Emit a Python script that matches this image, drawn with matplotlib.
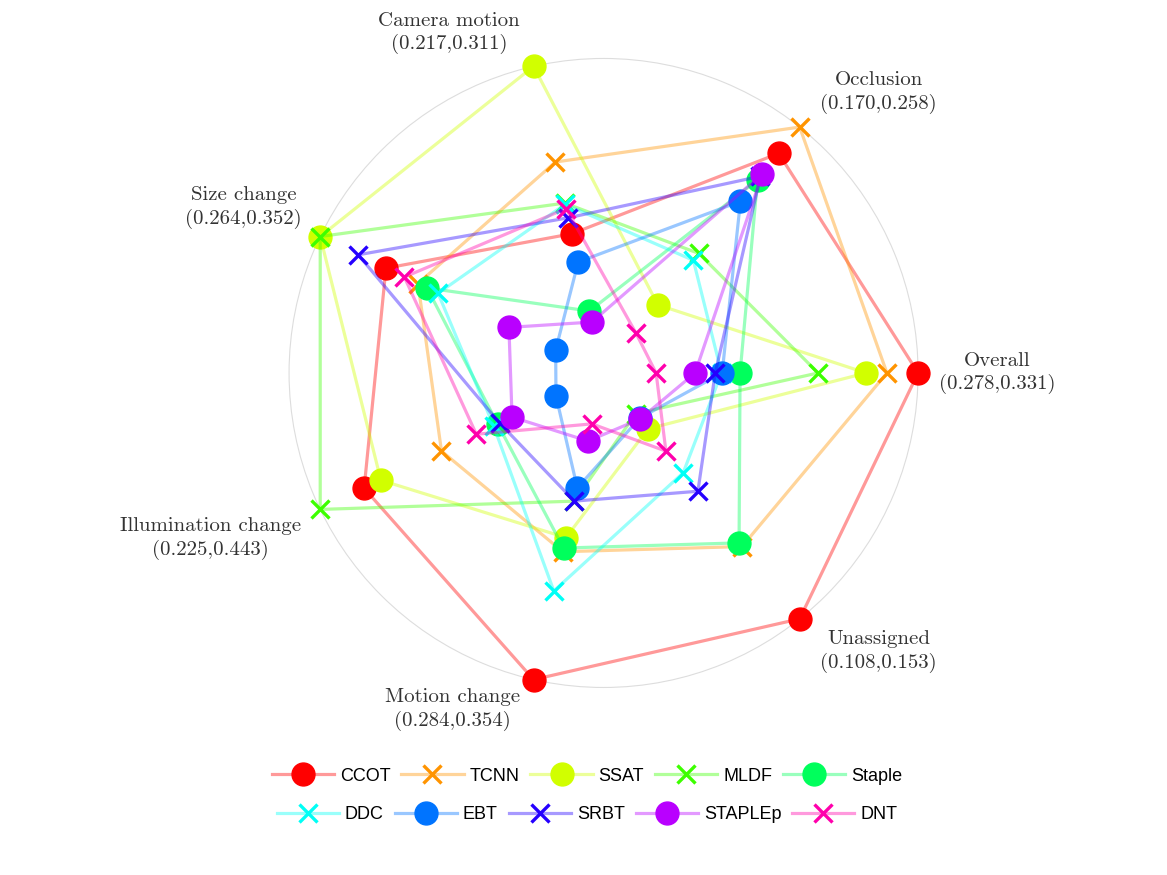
import matplotlib
matplotlib.use('Agg')
import matplotlib.pyplot as plt
import numpy as np

# attribute axes, counter-clockwise from the right
attributes = ['Overall', 'Occlusion', 'Camera motion', 'Size change',
              'Illumination change', 'Motion change', 'Unassigned']
ranges = ['(0.278,0.331)', '(0.170,0.258)', '(0.217,0.311)', '(0.264,0.352)',
          '(0.225,0.443)', '(0.284,0.354)', '(0.108,0.153)']

trackers = ['CCOT', 'TCNN', 'SSAT', 'MLDF', 'Staple',
            'DDC', 'EBT', 'SRBT', 'STAPLEp', 'DNT']
markers = ['o', 'x', 'o', 'x', 'o', 'x', 'o', 'x', 'o', 'x']

# normalised score per attribute (same order as attributes)
ccot    = [1.000, 0.893, 0.454, 0.768, 0.845, 1.000, 1.000]
tcnn    = [0.901, 1.000, 0.688, 0.655, 0.572, 0.583, 0.706]
ssat    = [0.835, 0.277, 1.000, 1.000, 0.786, 0.537, 0.227]
mldf    = [0.682, 0.486, 0.554, 1.000, 1.000, 0.418, 0.165]
staple  = [0.434, 0.785, 0.202, 0.623, 0.374, 0.571, 0.691]
ddc     = [0.375, 0.458, 0.550, 0.584, 0.388, 0.711, 0.406]
ebt     = [0.377, 0.698, 0.362, 0.169, 0.168, 0.375, 0.184]
srbt    = [0.355, 0.800, 0.506, 0.866, 0.367, 0.418, 0.481]
staplep = [0.291, 0.809, 0.166, 0.334, 0.323, 0.222, 0.187]
dnt     = [0.167, 0.164, 0.536, 0.703, 0.449, 0.166, 0.318]

scores = [ccot, tcnn, ssat, mldf, staple, ddc, ebt, srbt, staplep, dnt]

# small nudges (pixels, +y = down) for the axis labels
label_nudge = [(4, 0), (10, 0), (-10, 5), (-3, 0), (-4, 0), (-10, -8), (10, -2)]


def main():
    fig = plt.figure(figsize=(11.67, 8.75), dpi=100)
    ax = fig.add_axes([0.2477, 0.2143, 0.539, 0.7189], projection='polar')

    n = len(attributes)
    theta = 2 * np.pi * np.arange(n) / n
    theta_closed = np.append(theta, theta[0])

    cmap = plt.get_cmap('hsv')
    handles = []
    for i, name in enumerate(trackers):
        col = cmap(i / 10.0)
        r = np.array(scores[i])
        r_closed = np.append(r, r[0])
        ln, = ax.plot(theta_closed, r_closed, '-', color=col, alpha=0.4,
                      linewidth=2.3, clip_on=False, zorder=2 + 2 * i)
        if markers[i] == 'o':
            mk, = ax.plot(theta, r, 'o', color=col, markersize=16.5,
                          linestyle='none', clip_on=False, zorder=3 + 2 * i)
        else:
            mk, = ax.plot(theta, r, 'x', color=col, markersize=13,
                          markeredgewidth=2.4, linestyle='none',
                          clip_on=False, zorder=3 + 2 * i)
        handles.append((ln, mk))

    ax.set_ylim(0, 1)
    ax.set_xticks([])
    ax.set_yticks([])
    ax.grid(False)
    ax.spines['polar'].set_color('#dddddd')
    ax.spines['polar'].set_linewidth(0.8)

    for k in range(n):
        c, s = np.cos(theta[k]), np.sin(theta[k])
        ha = 'left' if c > 0.1 else ('right' if c < -0.1 else 'center')
        va = 'bottom' if s > 0.1 else ('top' if s < -0.1 else 'center')
        dx, dy = label_nudge[k]
        ax.annotate(attributes[k] + '\n' + ranges[k], xy=(theta[k], 1.055),
                    xytext=(dx * 0.72, -dy * 0.72), textcoords='offset points',
                    ha=ha, va=va, multialignment='center', annotation_clip=False,
                    linespacing=1.3, fontsize=15, family='cmr10', color='#333333')

    leg_font = {'family': 'Liberation Sans', 'size': 13}
    for row, ypos in enumerate([0.113, 0.069]):
        hs = handles[row * 5:(row + 1) * 5]
        ls = trackers[row * 5:(row + 1) * 5]
        fig.legend(hs, ls, loc='center', bbox_to_anchor=(0.503, ypos), ncol=5,
                   frameon=False, prop=leg_font, handlelength=3.45,
                   handletextpad=0.33, columnspacing=0.6, borderpad=0)

    fig.savefig('out.png', dpi=100)


if __name__ == "__main__":
    main()
